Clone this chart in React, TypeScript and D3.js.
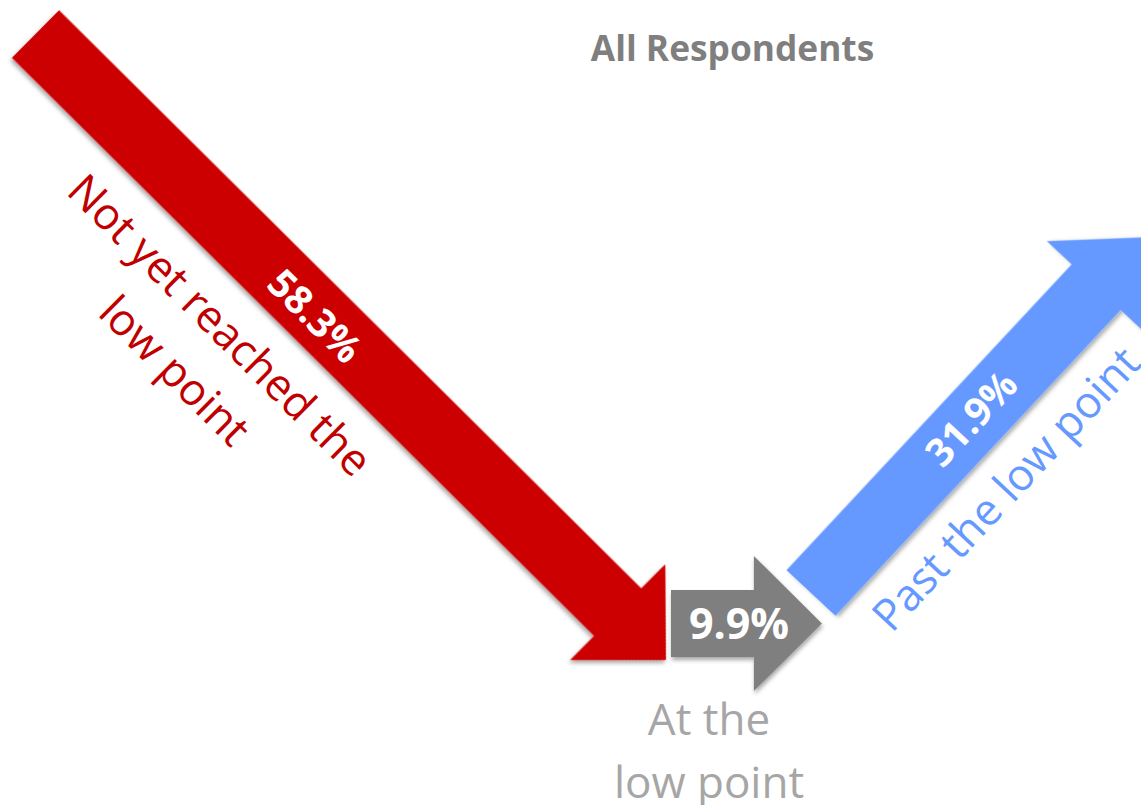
import React from 'react';
import * as d3 from 'd3';

// ---- data ----
const categories = ['Not yet reached the low point', 'At the low point', 'Past the low point'];
const values = [58.3, 9.9, 31.9];
const valueLabels = ['58.3%', '9.9%', '31.9%'];
const categoryLines = [['Not yet reached the', 'low point'], ['At the', 'low point'], ['Past the low point']];
const title = 'All Respondents';

// ---- styles / layout ----
const W = 1141;
const H = 805;
const FONT = "'Open Sans', 'DejaVu Sans', sans-serif";
const arrowColors = ['#CC0000', '#7F7F7F', '#6699FF'];
const labelColors = ['#C00000', '#A6A6A6', '#6699FF'];
const SHAFT = 67;
const HEAD_W = 135;
const HEAD_L = 68;

// arrow length is proportional to the share
const lengthScale = d3.scaleLinear().domain([0, 100]).range([0, 1524]);

const layout = [
  { x: 35.5, y: 34, angle: 44.8, valueU: 397, valueV: 17, valueSize: 39, labelU: 336, labelV: [92, 156] },
  { x: 671, y: 623.5, angle: 0, valueU: 68, valueV: 15.5, valueSize: 43, labelU: 38, labelV: [111.5, 174.5] },
  { x: 811, y: 593, angle: -47, valueU: 237, valueV: 12, valueSize: 39, labelU: 209, labelV: [87] },
];

function arrowPath(L: number): string {
  const w = SHAFT / 2;
  const hw = HEAD_W / 2;
  const pts: [number, number][] = [
    [0, -w], [L - HEAD_L, -w], [L - HEAD_L, -hw], [L, 0],
    [L - HEAD_L, hw], [L - HEAD_L, w], [0, w],
  ];
  return (d3.line()(pts) || '') + 'Z';
}

export default function App() {
  return (
    <svg
      width={W}
      height={H}
      style={{ position: 'absolute', left: 0, top: 0, overflow: 'hidden', background: '#fff' }}
      fontFamily={FONT}
    >
      <defs>
        <filter id="shadow" x="-10%" y="-10%" width="120%" height="120%">
          <feDropShadow dx="1" dy="3" stdDeviation="2" floodColor="#000" floodOpacity="0.35" />
        </filter>
      </defs>
      <rect x={0} y={0} width={W} height={H} fill="#fff" />
      <text x={732.5} y={61} textAnchor="middle" fontSize={35.3} fontWeight={700} fill="#7F7F7F">
        {title}
      </text>
      {values.map((v, i) => {
        const L = lengthScale(v);
        const lay = layout[i];
        return (
          <g key={categories[i]} transform={`translate(${lay.x},${lay.y}) rotate(${lay.angle})`}>
            <path d={arrowPath(L)} fill={arrowColors[i]} filter="url(#shadow)" />
            <text
              x={lay.valueU}
              y={lay.valueV}
              textAnchor="middle"
              fontSize={lay.valueSize}
              fontWeight={700}
              fill="#fff"
            >
              {valueLabels[i]}
            </text>
            {categoryLines[i].map((line, j) => (
              <text
                key={line}
                x={lay.labelU}
                y={lay.labelV[j]}
                textAnchor="middle"
                fontSize={44}
                fill={labelColors[i]}
              >
                {line}
              </text>
            ))}
          </g>
        );
      })}
    </svg>
  );
}
